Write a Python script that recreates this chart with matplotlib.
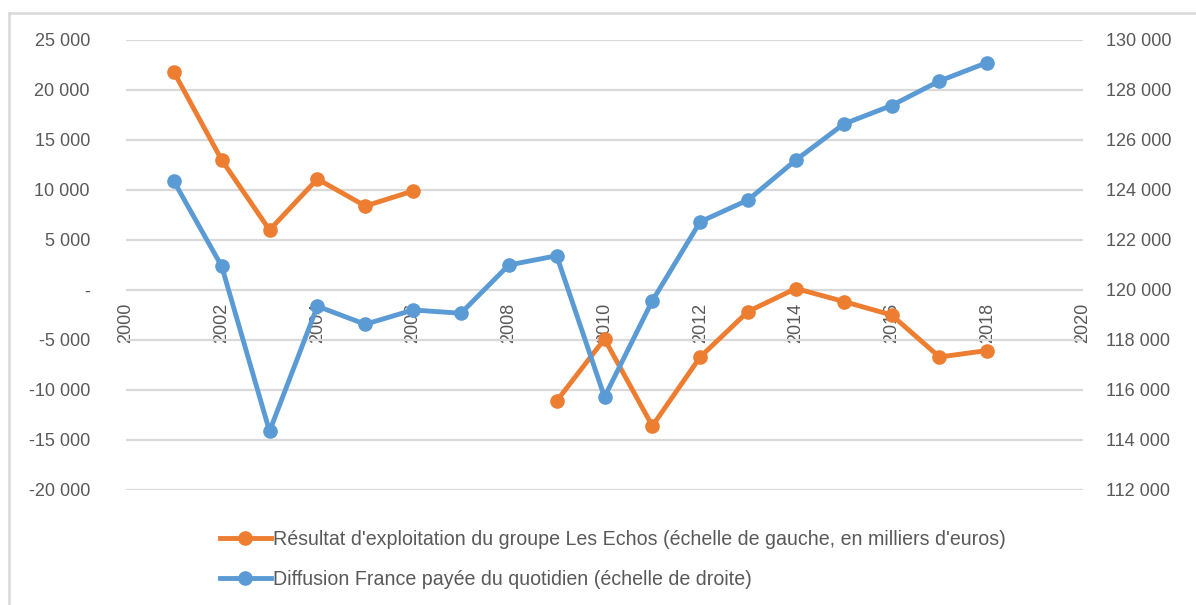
#!/usr/bin/python3

import numpy as np
import matplotlib
matplotlib.use('Agg')
import matplotlib.pyplot as plt
from matplotlib.ticker import FixedLocator, FuncFormatter
from matplotlib.lines import Line2D

# data
years = [2001, 2002, 2003, 2004, 2005, 2006, 2007, 2008, 2009,
	2010, 2011, 2012, 2013, 2014, 2015, 2016, 2017, 2018]

# operating result, thousands of euros (left scale); 2007-2008 missing
resultat = [21800, 13000, 6000, 11100, 8400, 9900, np.nan, np.nan, -11100,
	-4900, -13600, -6700, -2150, 150, -1150, -2500, -6700, -6050]

# paid circulation in France (right scale)
diffusion = [124350, 120950, 114350, 119350, 118630, 119200, 119070, 121000, 121370,
	115720, 119570, 122730, 123600, 125200, 126640, 127380, 128360, 129100]

left_ticks = [-20000, -15000, -10000, -5000, 0, 5000, 10000, 15000, 20000, 25000]
right_ticks = [112000, 114000, 116000, 118000, 120000, 122000, 124000, 126000, 128000, 130000]
x_ticks = [2000, 2002, 2004, 2006, 2008, 2010, 2012, 2014, 2016, 2018, 2020]

label_resultat = "Résultat d'exploitation du groupe Les Echos (échelle de gauche, en milliers d'euros)"
label_diffusion = "Diffusion France payée du quotidien (échelle de droite)"

ORANGE = '#ED7D31'
BLUE = '#5B9BD5'
GRID = '#D9D9D9'
TEXT = '#595959'


def fmt_thousands(v, pos=None):
	''' 25000 -> "25 000", zero shown as a dash'''
	if v == 0:
		return '-'
	return '{:,.0f}'.format(v).replace(',', ' ')


def main():
	''' main function'''

	W, H = 1196, 605
	fig = plt.figure(figsize=(W / 100, H / 100), dpi=100)

	# plot area in pixels: x 126..1083, y 40..490
	ax = fig.add_axes([126 / W, 1 - 490 / H, (1083 - 126) / W, 450 / H])
	ax2 = ax.twinx()

	# chart border (top and left edges visible)
	fig.add_artist(Line2D([9 / W, 9 / W], [0, 1 - 13 / H], color=GRID, lw=1.8))
	fig.add_artist(Line2D([9 / W, 1], [1 - 13 / H, 1 - 13 / H], color=GRID, lw=1.8))

	# series
	ax.plot(years, resultat, color=ORANGE, lw=3.5, marker='o', markersize=9.5,
		solid_capstyle='round', solid_joinstyle='round', zorder=3)
	ax2.plot(years, diffusion, color=BLUE, lw=3.5, marker='o', markersize=9.5,
		solid_capstyle='round', solid_joinstyle='round', zorder=3)

	# left axis
	ax.set_ylim(-20000, 25000)
	ax.yaxis.set_major_locator(FixedLocator(left_ticks))
	ax.yaxis.set_major_formatter(FuncFormatter(fmt_thousands))
	ax.yaxis.grid(True, color=GRID, lw=1.6)
	ax.set_axisbelow(True)

	# right axis
	ax2.set_ylim(112000, 130000)
	ax2.yaxis.set_major_locator(FixedLocator(right_ticks))
	ax2.yaxis.set_major_formatter(FuncFormatter(fmt_thousands))

	# x axis crossing at zero, labels rotated
	ax.set_xlim(2000, 2020)
	ax.xaxis.set_major_locator(FixedLocator(x_ticks))
	ax.spines['bottom'].set_position(('data', 0))

	for a in (ax, ax2):
		for s in a.spines.values():
			s.set_visible(False)

	ax.tick_params(axis='x', length=0, pad=9, labelsize=13, labelcolor=TEXT, labelrotation=90)
	ax.tick_params(axis='y', length=0, pad=26, labelsize=13, labelcolor=TEXT)
	ax2.tick_params(axis='y', length=0, pad=16.5, labelsize=13, labelcolor=TEXT)
	for lab in ax.get_xticklabels() + ax.get_yticklabels() + ax2.get_yticklabels():
		lab.set_family(['Liberation Sans', 'DejaVu Sans'])

	# legend below the plot
	handles = [
		Line2D([], [], color=ORANGE, lw=3.5, marker='o', markersize=9.5),
		Line2D([], [], color=BLUE, lw=3.5, marker='o', markersize=9.5),
	]
	leg = fig.legend(handles, [label_resultat, label_diffusion], loc='upper left',
		bbox_to_anchor=(220 / W, 1 - 530 / H), frameon=False, borderpad=0,
		borderaxespad=0, handlelength=2.6, handletextpad=0.1, labelspacing=1.05,
		prop={'family': ['Liberation Sans', 'DejaVu Sans'], 'size': 14.1})
	for t in leg.get_texts():
		t.set_color(TEXT)

	plt.savefig('out.png', dpi=100)


if __name__ == '__main__':
	main()
